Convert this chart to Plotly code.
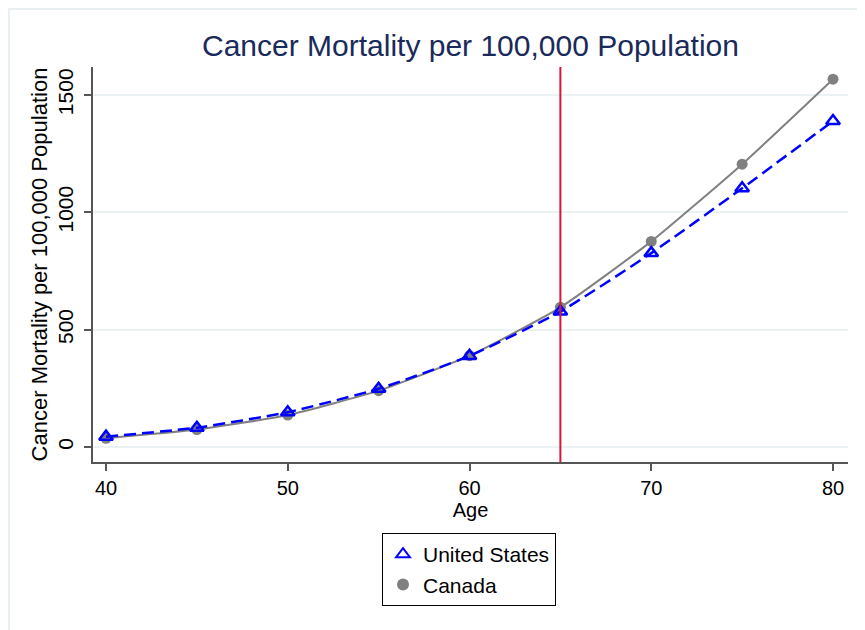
import plotly.graph_objects as go

ages = [40, 45, 50, 55, 60, 65, 70, 75, 80]
us_rates = [44, 82, 148, 248, 388, 577, 826, 1102, 1389]
canada_rates = [37, 74, 136, 240, 389, 595, 876, 1205, 1567]
cutoff_age = 65
y_ticks = [0, 500, 1000, 1500]
x_ticks = [40, 50, 60, 70, 80]

TITLE = "Cancer Mortality per 100,000 Population"
sans = "Liberation Sans, Arial, Helvetica, sans-serif"

US_COLOR = "#0000ff"
CA_COLOR = "#808080"

# plot-area position in figure pixels
L, R, T, B = 85, 840, 59, 454
W, H = 865, 630

fig = go.Figure()
fig.add_trace(go.Scatter(
    x=ages, y=canada_rates, name="Canada", mode="lines+markers",
    line=dict(color=CA_COLOR, width=2, shape="spline", smoothing=0.5),
    marker=dict(symbol="circle", size=11, color=CA_COLOR),
    showlegend=False,
))
fig.add_trace(go.Scatter(
    x=ages, y=us_rates, name="United States", mode="lines+markers",
    line=dict(color=US_COLOR, width=2.5, dash="12px,6px", shape="spline", smoothing=0.5),
    marker=dict(symbol="triangle-up-open", size=12, color=US_COLOR, line=dict(width=2.5, color=US_COLOR)),
    showlegend=False,
))
# legend entries (marker only, as in the original legend)
fig.add_trace(go.Scatter(
    x=[None], y=[None], name="United States", mode="markers",
    marker=dict(symbol="triangle-up-open", size=12, color=US_COLOR, line=dict(width=2.5, color=US_COLOR)),
    legendrank=1,
))
fig.add_trace(go.Scatter(
    x=[None], y=[None], name="Canada", mode="markers",
    marker=dict(symbol="circle", size=11, color=CA_COLOR),
    legendrank=2,
))

fig.add_vline(x=cutoff_age, line=dict(color="#d6143c", width=2), layer="above")

pw, ph = R - L, B - T
# outer graph-region frame
fig.add_shape(type="rect", xref="paper", yref="paper",
              x0=(1 - L) / pw, x1=(W + 10 - L) / pw,
              y0=(B - H - 10) / ph, y1=(B - 1) / ph,
              line=dict(color="#e8f0f2", width=2), fillcolor="rgba(0,0,0,0)", layer="below")

fig.update_layout(
    width=W, height=H,
    margin=dict(l=L, r=W - R, t=T, b=H - B, autoexpand=False),
    paper_bgcolor="white", plot_bgcolor="white",
    title=dict(text=TITLE, x=((L + R) / 2) / W, xanchor="center", y=1 - 37 / H, yanchor="middle",
               font=dict(family=sans, size=30, color="#1a2a5a")),
    xaxis=dict(range=[39.285, 80.825], tickvals=x_ticks, ticks="outside", ticklen=7, tickwidth=1.5,
               tickcolor="#555555", showline=True, linecolor="#555555", linewidth=1.5,
               showgrid=False, zeroline=False, automargin=False,
               tickfont=dict(family=sans, size=20, color="black"),
               title=dict(text="Age", font=dict(family=sans, size=20, color="black"), standoff=0)),
    yaxis=dict(range=[-64, 1619], tickvals=y_ticks, ticks="outside", ticklen=7, tickwidth=1.5,
               tickcolor="#555555", showline=True, linecolor="#555555", linewidth=1.5,
               showgrid=True, gridcolor="#eaf2f3", gridwidth=2, zeroline=False, automargin=False,
               tickangle=-90, ticklabelstandoff=3, tickfont=dict(family=sans, size=21, color="black"),
               title=dict(text=TITLE, font=dict(family=sans, size=22, color="black"), standoff=0)),
    legend=dict(x=((469 - 8) - L) / pw, xanchor="center", y=(B - (533 - 8)) / ph, yanchor="top",
                bordercolor="black", borderwidth=1, bgcolor="white",
                font=dict(family=sans, size=21, color="black"), tracegroupgap=0,
                itemwidth=30, itemsizing="constant"),
    showlegend=True,
)

fig.write_html("out.html")
